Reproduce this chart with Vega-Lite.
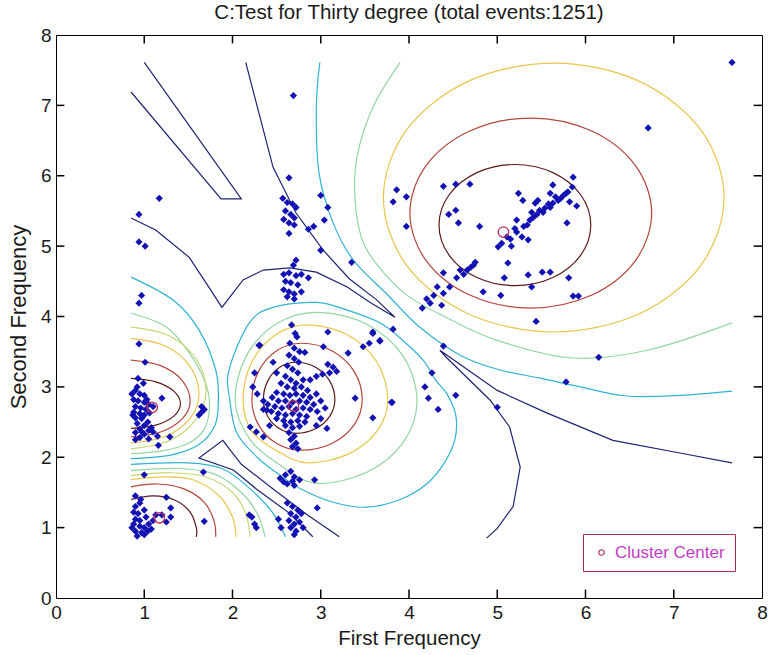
{
"$schema":"https://vega.github.io/schema/vega-lite/v6.json",
"width":706,"height":563,
"autosize":{"type":"none"},
"padding":{"left":56,"top":35,"right":6,"bottom":57},
"background":"white",
"title":{"text":"C:Test for Thirty degree (total events:1251)","font":"Liberation Sans","fontSize":20.5,"fontWeight":"normal","color":"#1a1a1a","offset":3},
"config":{"view":{"stroke":null},
"axis":{"labelFont":"Liberation Sans","labelFontSize":19,"labelColor":"#1a1a1a","titleFont":"Liberation Sans","titleFontSize":20.5,"titleFontWeight":"normal","titleColor":"#1a1a1a","domainColor":"black","grid":false,"ticks":false,"labelPadding":5,"domainWidth":1,"labelFlush":false,"labelOverlap":false}},
"datasets":{
"tk":[
{"x":1,"y":0,"x2":1,"y2":0.12},{"x":2,"y":0,"x2":2,"y2":0.12},{"x":3,"y":0,"x2":3,"y2":0.12},{"x":4,"y":0,"x2":4,"y2":0.12},{"x":5,"y":0,"x2":5,"y2":0.12},{"x":6,"y":0,"x2":6,"y2":0.12},{"x":7,"y":0,"x2":7,"y2":0.12},
{"x":1,"y":8,"x2":1,"y2":7.88},{"x":2,"y":8,"x2":2,"y2":7.88},{"x":3,"y":8,"x2":3,"y2":7.88},{"x":4,"y":8,"x2":4,"y2":7.88},{"x":5,"y":8,"x2":5,"y2":7.88},{"x":6,"y":8,"x2":6,"y2":7.88},{"x":7,"y":8,"x2":7,"y2":7.88},
{"x":0,"y":1,"x2":0.095,"y2":1},{"x":0,"y":2,"x2":0.095,"y2":2},{"x":0,"y":3,"x2":0.095,"y2":3},{"x":0,"y":4,"x2":0.095,"y2":4},{"x":0,"y":5,"x2":0.095,"y2":5},{"x":0,"y":6,"x2":0.095,"y2":6},{"x":0,"y":7,"x2":0.095,"y2":7},
{"x":8,"y":1,"x2":7.905,"y2":1},{"x":8,"y":2,"x2":7.905,"y2":2},{"x":8,"y":3,"x2":7.905,"y2":3},{"x":8,"y":4,"x2":7.905,"y2":4},{"x":8,"y":5,"x2":7.905,"y2":5},{"x":8,"y":6,"x2":7.905,"y2":6},{"x":8,"y":7,"x2":7.905,"y2":7}
],
"closed":[
{"c":"a7","l":7,"i":0,"x":6.06,"y":5.3},{"c":"a7","l":7,"i":1,"x":5.945,"y":5.73},{"c":"a7","l":7,"i":2,"x":5.63,"y":6.045},{"c":"a7","l":7,"i":3,"x":5.2,"y":6.16},{"c":"a7","l":7,"i":4,"x":4.77,"y":6.045},{"c":"a7","l":7,"i":5,"x":4.455,"y":5.73},{"c":"a7","l":7,"i":6,"x":4.34,"y":5.3},{"c":"a7","l":7,"i":7,"x":4.455,"y":4.87},{"c":"a7","l":7,"i":8,"x":4.77,"y":4.555},{"c":"a7","l":7,"i":9,"x":5.2,"y":4.44},{"c":"a7","l":7,"i":10,"x":5.63,"y":4.555},{"c":"a7","l":7,"i":11,"x":5.945,"y":4.87},
{"c":"a6","l":6,"i":0,"x":6.75,"y":5.47},{"c":"a6","l":6,"i":1,"x":6.566,"y":6.145},{"c":"a6","l":6,"i":2,"x":6.065,"y":6.639},{"c":"a6","l":6,"i":3,"x":5.38,"y":6.82},{"c":"a6","l":6,"i":4,"x":4.695,"y":6.639},{"c":"a6","l":6,"i":5,"x":4.194,"y":6.145},{"c":"a6","l":6,"i":6,"x":4.01,"y":5.47},{"c":"a6","l":6,"i":7,"x":4.194,"y":4.795},{"c":"a6","l":6,"i":8,"x":4.695,"y":4.301},{"c":"a6","l":6,"i":9,"x":5.38,"y":4.12},{"c":"a6","l":6,"i":10,"x":6.065,"y":4.301},{"c":"a6","l":6,"i":11,"x":6.566,"y":4.795},
{"c":"a5","l":5,"i":0,"x":7.57,"y":5.69},{"c":"a5","l":5,"i":1,"x":7.311,"y":6.645},{"c":"a5","l":5,"i":2,"x":6.605,"y":7.344},{"c":"a5","l":5,"i":3,"x":5.64,"y":7.6},{"c":"a5","l":5,"i":4,"x":4.675,"y":7.344},{"c":"a5","l":5,"i":5,"x":3.969,"y":6.645},{"c":"a5","l":5,"i":6,"x":3.71,"y":5.69},{"c":"a5","l":5,"i":7,"x":3.969,"y":4.735},{"c":"a5","l":5,"i":8,"x":4.675,"y":4.036},{"c":"a5","l":5,"i":9,"x":5.64,"y":3.78},{"c":"a5","l":5,"i":10,"x":6.605,"y":4.036},{"c":"a5","l":5,"i":11,"x":7.311,"y":4.735},
{"c":"b7","l":7,"i":0,"x":3.16,"y":2.82},{"c":"b7","l":7,"i":1,"x":3.101,"y":3.085},{"c":"b7","l":7,"i":2,"x":2.94,"y":3.279},{"c":"b7","l":7,"i":3,"x":2.72,"y":3.35},{"c":"b7","l":7,"i":4,"x":2.535,"y":3.279},{"c":"b7","l":7,"i":5,"x":2.4,"y":3.085},{"c":"b7","l":7,"i":6,"x":2.35,"y":2.82},{"c":"b7","l":7,"i":7,"x":2.4,"y":2.58},{"c":"b7","l":7,"i":8,"x":2.535,"y":2.404},{"c":"b7","l":7,"i":9,"x":2.72,"y":2.34},{"c":"b7","l":7,"i":10,"x":2.94,"y":2.404},{"c":"b7","l":7,"i":11,"x":3.101,"y":2.58},
{"c":"b6","l":6,"i":0,"x":3.47,"y":2.82},{"c":"b6","l":6,"i":1,"x":3.378,"y":3.22},{"c":"b6","l":6,"i":2,"x":3.125,"y":3.513},{"c":"b6","l":6,"i":3,"x":2.78,"y":3.62},{"c":"b6","l":6,"i":4,"x":2.5,"y":3.513},{"c":"b6","l":6,"i":5,"x":2.295,"y":3.22},{"c":"b6","l":6,"i":6,"x":2.22,"y":2.82},{"c":"b6","l":6,"i":7,"x":2.295,"y":2.46},{"c":"b6","l":6,"i":8,"x":2.5,"y":2.196},{"c":"b6","l":6,"i":9,"x":2.78,"y":2.1},{"c":"b6","l":6,"i":10,"x":3.125,"y":2.196},{"c":"b6","l":6,"i":11,"x":3.378,"y":2.46},
{"c":"b5","l":5,"i":0,"x":3.76,"y":2.82},{"c":"b5","l":5,"i":1,"x":3.638,"y":3.35},{"c":"b5","l":5,"i":2,"x":3.305,"y":3.738},{"c":"b5","l":5,"i":3,"x":2.85,"y":3.88},{"c":"b5","l":5,"i":4,"x":2.485,"y":3.738},{"c":"b5","l":5,"i":5,"x":2.218,"y":3.35},{"c":"b5","l":5,"i":6,"x":2.12,"y":2.82},{"c":"b5","l":5,"i":7,"x":2.218,"y":2.37},{"c":"b5","l":5,"i":8,"x":2.52,"y":2.08},{"c":"b5","l":5,"i":9,"x":2.85,"y":1.92},{"c":"b5","l":5,"i":10,"x":3.305,"y":2.041},{"c":"b5","l":5,"i":11,"x":3.638,"y":2.37},
{"c":"b3","l":3,"i":0,"x":4.09,"y":2.8},{"c":"b3","l":3,"i":1,"x":3.937,"y":3.43},{"c":"b3","l":3,"i":2,"x":3.52,"y":3.891},{"c":"b3","l":3,"i":3,"x":2.95,"y":4.06},{"c":"b3","l":3,"i":4,"x":2.49,"y":3.891},{"c":"b3","l":3,"i":5,"x":2.153,"y":3.43},{"c":"b3","l":3,"i":6,"x":2.03,"y":2.8},{"c":"b3","l":3,"i":7,"x":2.2,"y":2.25},{"c":"b3","l":3,"i":8,"x":2.55,"y":1.88},{"c":"b3","l":3,"i":9,"x":2.95,"y":1.63},{"c":"b3","l":3,"i":10,"x":3.52,"y":1.787},{"c":"b3","l":3,"i":11,"x":3.937,"y":2.215},
{"c":"b2","l":2,"i":0,"x":1.96,"y":3.24},{"c":"b2","l":2,"i":1,"x":2.19,"y":3.91},{"c":"b2","l":2,"i":2,"x":2.46,"y":4.13},{"c":"b2","l":2,"i":3,"x":2.95,"y":4.2},{"c":"b2","l":2,"i":4,"x":3.3,"y":4.09},{"c":"b2","l":2,"i":5,"x":3.67,"y":3.91},{"c":"b2","l":2,"i":6,"x":3.93,"y":3.66},{"c":"b2","l":2,"i":7,"x":4.16,"y":3.38},{"c":"b2","l":2,"i":8,"x":4.3,"y":3.1},{"c":"b2","l":2,"i":9,"x":4.43,"y":2.9},{"c":"b2","l":2,"i":10,"x":4.53,"y":2.6},{"c":"b2","l":2,"i":11,"x":4.52,"y":2.25},{"c":"b2","l":2,"i":12,"x":4.4,"y":1.92},{"c":"b2","l":2,"i":13,"x":4.2,"y":1.62},{"c":"b2","l":2,"i":14,"x":3.9,"y":1.4},{"c":"b2","l":2,"i":15,"x":3.52,"y":1.29},{"c":"b2","l":2,"i":16,"x":3.14,"y":1.36},{"c":"b2","l":2,"i":17,"x":2.76,"y":1.56},{"c":"b2","l":2,"i":18,"x":2.5,"y":1.78},{"c":"b2","l":2,"i":19,"x":2.28,"y":2.0},{"c":"b2","l":2,"i":20,"x":2.05,"y":2.34},{"c":"b2","l":2,"i":21,"x":1.97,"y":2.81}
],
"open":[
{"c":"d2","l":2,"i":0,"x":0.85,"y":4.56},{"c":"d2","l":2,"i":1,"x":1.33,"y":4.23},{"c":"d2","l":2,"i":2,"x":1.62,"y":3.81},{"c":"d2","l":2,"i":3,"x":1.81,"y":3.24},{"c":"d2","l":2,"i":4,"x":1.84,"y":2.8},{"c":"d2","l":2,"i":5,"x":1.8,"y":2.45},{"c":"d2","l":2,"i":6,"x":1.62,"y":2.18},{"c":"d2","l":2,"i":7,"x":1.3,"y":2.03},{"c":"d2","l":2,"i":8,"x":0.85,"y":1.98},
{"c":"d3","l":3,"i":0,"x":0.85,"y":4.05},{"c":"d3","l":3,"i":1,"x":1.25,"y":3.85},{"c":"d3","l":3,"i":2,"x":1.5,"y":3.5},{"c":"d3","l":3,"i":3,"x":1.68,"y":3.1},{"c":"d3","l":3,"i":4,"x":1.74,"y":2.75},{"c":"d3","l":3,"i":5,"x":1.68,"y":2.4},{"c":"d3","l":3,"i":6,"x":1.5,"y":2.2},{"c":"d3","l":3,"i":7,"x":1.2,"y":2.09},{"c":"d3","l":3,"i":8,"x":0.85,"y":2.05},
{"c":"d4","l":4,"i":0,"x":0.85,"y":3.85},{"c":"d4","l":4,"i":1,"x":1.275,"y":3.73},{"c":"d4","l":4,"i":2,"x":1.586,"y":3.4},{"c":"d4","l":4,"i":3,"x":1.7,"y":2.95},{"c":"d4","l":4,"i":4,"x":1.586,"y":2.535},{"c":"d4","l":4,"i":5,"x":1.275,"y":2.23},{"c":"d4","l":4,"i":6,"x":0.85,"y":2.12},
{"c":"d5","l":5,"i":0,"x":0.85,"y":3.69},{"c":"d5","l":5,"i":1,"x":1.235,"y":3.584},{"c":"d5","l":5,"i":2,"x":1.517,"y":3.295},{"c":"d5","l":5,"i":3,"x":1.62,"y":2.9},{"c":"d5","l":5,"i":4,"x":1.517,"y":2.55},{"c":"d5","l":5,"i":5,"x":1.235,"y":2.294},{"c":"d5","l":5,"i":6,"x":0.85,"y":2.2},
{"c":"d6","l":6,"i":0,"x":0.85,"y":3.38},{"c":"d6","l":6,"i":1,"x":1.185,"y":3.302},{"c":"d6","l":6,"i":2,"x":1.43,"y":3.09},{"c":"d6","l":6,"i":3,"x":1.52,"y":2.8},{"c":"d6","l":6,"i":4,"x":1.43,"y":2.545},{"c":"d6","l":6,"i":5,"x":1.185,"y":2.358},{"c":"d6","l":6,"i":6,"x":0.85,"y":2.29},
{"c":"d7","l":7,"i":0,"x":0.85,"y":3.12},{"c":"d7","l":7,"i":1,"x":1.13,"y":3.072},{"c":"d7","l":7,"i":2,"x":1.335,"y":2.94},{"c":"d7","l":7,"i":3,"x":1.41,"y":2.76},{"c":"d7","l":7,"i":4,"x":1.335,"y":2.585},{"c":"d7","l":7,"i":5,"x":1.13,"y":2.457},{"c":"d7","l":7,"i":6,"x":0.85,"y":2.41},
{"c":"e7","l":7,"i":0,"x":0.85,"y":1.4},{"c":"e7","l":7,"i":1,"x":1.1,"y":1.45},{"c":"e7","l":7,"i":2,"x":1.35,"y":1.39},{"c":"e7","l":7,"i":3,"x":1.52,"y":1.22},{"c":"e7","l":7,"i":4,"x":1.59,"y":1.0},{"c":"e7","l":7,"i":5,"x":1.59,"y":0.87},
{"c":"e6","l":6,"i":0,"x":0.85,"y":1.58},{"c":"e6","l":6,"i":1,"x":1.15,"y":1.62},{"c":"e6","l":6,"i":2,"x":1.45,"y":1.55},{"c":"e6","l":6,"i":3,"x":1.68,"y":1.36},{"c":"e6","l":6,"i":4,"x":1.79,"y":1.1},{"c":"e6","l":6,"i":5,"x":1.81,"y":0.87},
{"c":"e5","l":5,"i":0,"x":0.85,"y":1.68},{"c":"e5","l":5,"i":1,"x":1.2,"y":1.72},{"c":"e5","l":5,"i":2,"x":1.55,"y":1.68},{"c":"e5","l":5,"i":3,"x":1.85,"y":1.45},{"c":"e5","l":5,"i":4,"x":2.0,"y":1.15},{"c":"e5","l":5,"i":5,"x":2.04,"y":0.87},
{"c":"e4","l":4,"i":0,"x":0.85,"y":1.74},{"c":"e4","l":4,"i":1,"x":1.3,"y":1.78},{"c":"e4","l":4,"i":2,"x":1.7,"y":1.72},{"c":"e4","l":4,"i":3,"x":2.0,"y":1.5},{"c":"e4","l":4,"i":4,"x":2.15,"y":1.2},{"c":"e4","l":4,"i":5,"x":2.2,"y":0.87},
{"c":"e3","l":3,"i":0,"x":0.85,"y":1.81},{"c":"e3","l":3,"i":1,"x":1.4,"y":1.84},{"c":"e3","l":3,"i":2,"x":1.8,"y":1.76},{"c":"e3","l":3,"i":3,"x":2.1,"y":1.5},{"c":"e3","l":3,"i":4,"x":2.28,"y":1.2},{"c":"e3","l":3,"i":5,"x":2.37,"y":0.87},
{"c":"e2","l":2,"i":0,"x":0.85,"y":1.9},{"c":"e2","l":2,"i":1,"x":1.5,"y":1.92},{"c":"e2","l":2,"i":2,"x":1.9,"y":1.83},{"c":"e2","l":2,"i":3,"x":2.2,"y":1.55},{"c":"e2","l":2,"i":4,"x":2.45,"y":1.22},{"c":"e2","l":2,"i":5,"x":2.6,"y":0.87},
{"c":"f3","l":3,"i":0,"x":3.9,"y":7.61},{"c":"f3","l":3,"i":1,"x":3.59,"y":6.97},{"c":"f3","l":3,"i":2,"x":3.41,"y":6.26},{"c":"f3","l":3,"i":3,"x":3.39,"y":5.65},{"c":"f3","l":3,"i":4,"x":3.47,"y":5.09},{"c":"f3","l":3,"i":5,"x":3.66,"y":4.7},{"c":"f3","l":3,"i":6,"x":3.98,"y":4.3},{"c":"f3","l":3,"i":7,"x":4.4,"y":4.0},{"c":"f3","l":3,"i":8,"x":5.0,"y":3.66},{"c":"f3","l":3,"i":9,"x":5.86,"y":3.41},{"c":"f3","l":3,"i":10,"x":6.7,"y":3.52},{"c":"f3","l":3,"i":11,"x":7.66,"y":3.91},
{"c":"f2","l":2,"i":0,"x":2.99,"y":7.61},{"c":"f2","l":2,"i":1,"x":2.95,"y":6.97},{"c":"f2","l":2,"i":2,"x":2.98,"y":6.04},{"c":"f2","l":2,"i":3,"x":3.14,"y":5.33},{"c":"f2","l":2,"i":4,"x":3.37,"y":4.8},{"c":"f2","l":2,"i":5,"x":3.74,"y":4.33},{"c":"f2","l":2,"i":6,"x":4.12,"y":3.85},{"c":"f2","l":2,"i":7,"x":4.58,"y":3.45},{"c":"f2","l":2,"i":8,"x":5.0,"y":3.25},{"c":"f2","l":2,"i":9,"x":5.5,"y":3.12},{"c":"f2","l":2,"i":10,"x":5.94,"y":3.0},{"c":"f2","l":2,"i":11,"x":6.47,"y":2.87},{"c":"f2","l":2,"i":12,"x":7.07,"y":2.88},{"c":"f2","l":2,"i":13,"x":7.66,"y":2.94}
],
"sharp":[
{"c":"nab","l":1,"i":0,"x":2.15,"y":7.61},{"c":"nab","l":1,"i":1,"x":2.46,"y":6.12},{"c":"nab","l":1,"i":2,"x":2.72,"y":5.47},{"c":"nab","l":1,"i":3,"x":3.03,"y":4.94},{"c":"nab","l":1,"i":4,"x":3.32,"y":4.54},{"c":"nab","l":1,"i":5,"x":3.63,"y":4.24},{"c":"nab","l":1,"i":6,"x":3.84,"y":3.99},{"c":"nab","l":1,"i":7,"x":3.56,"y":4.2},{"c":"nab","l":1,"i":8,"x":3.3,"y":4.42},{"c":"nab","l":1,"i":9,"x":2.95,"y":4.63},{"c":"nab","l":1,"i":10,"x":2.65,"y":4.69},{"c":"nab","l":1,"i":11,"x":2.35,"y":4.66},{"c":"nab","l":1,"i":12,"x":2.12,"y":4.52},{"c":"nab","l":1,"i":13,"x":1.88,"y":4.13},{"c":"nab","l":1,"i":14,"x":1.73,"y":4.42},{"c":"nab","l":1,"i":15,"x":1.51,"y":4.84},{"c":"nab","l":1,"i":16,"x":1.13,"y":5.23},{"c":"nab","l":1,"i":17,"x":0.85,"y":5.4},
{"c":"nlp","l":1,"i":0,"x":0.85,"y":7.19},{"c":"nlp","l":1,"i":1,"x":1.87,"y":5.67},{"c":"nlp","l":1,"i":2,"x":2.1,"y":5.67},{"c":"nlp","l":1,"i":3,"x":1.0,"y":7.61},
{"c":"nwd","l":1,"i":0,"x":2.91,"y":0.87},{"c":"nwd","l":1,"i":1,"x":2.64,"y":1.21},{"c":"nwd","l":1,"i":2,"x":2.27,"y":1.55},{"c":"nwd","l":1,"i":3,"x":2.01,"y":1.82},{"c":"nwd","l":1,"i":4,"x":1.62,"y":1.99},{"c":"nwd","l":1,"i":5,"x":1.89,"y":2.24},{"c":"nwd","l":1,"i":6,"x":2.1,"y":1.9},{"c":"nwd","l":1,"i":7,"x":2.46,"y":1.55},{"c":"nwd","l":1,"i":8,"x":2.85,"y":1.18},{"c":"nwd","l":1,"i":9,"x":3.21,"y":0.87},
{"c":"ncd","l":1,"i":0,"x":4.88,"y":0.85},{"c":"ncd","l":1,"i":1,"x":5.0,"y":0.99},{"c":"ncd","l":1,"i":2,"x":5.18,"y":1.3},{"c":"ncd","l":1,"i":3,"x":5.26,"y":1.86},{"c":"ncd","l":1,"i":4,"x":5.14,"y":2.43},{"c":"ncd","l":1,"i":5,"x":4.92,"y":2.81},{"c":"ncd","l":1,"i":6,"x":4.43,"y":3.41},{"c":"ncd","l":1,"i":7,"x":4.35,"y":3.52},{"c":"ncd","l":1,"i":8,"x":5.0,"y":2.95},{"c":"ncd","l":1,"i":9,"x":5.56,"y":2.63},{"c":"ncd","l":1,"i":10,"x":6.31,"y":2.24},{"c":"ncd","l":1,"i":11,"x":7.07,"y":2.06},{"c":"ncd","l":1,"i":12,"x":7.66,"y":1.92}
],
"pts":[
{"x":0.94,"y":5.45},{"x":1.17,"y":5.68},{"x":0.94,"y":5.06},{"x":1.01,"y":5.0},{"x":0.97,"y":4.3},{"x":0.94,"y":4.19},{"x":0.94,"y":3.61},{"x":1.01,"y":3.35},{"x":0.93,"y":3.12},{"x":0.99,"y":3.05},
{"x":0.9,"y":2.95},{"x":0.95,"y":2.9},{"x":1.0,"y":2.88},{"x":0.88,"y":2.82},{"x":0.93,"y":2.8},{"x":1.0,"y":2.78},{"x":1.05,"y":2.75},{"x":0.9,"y":2.72},{"x":0.96,"y":2.7},{"x":1.02,"y":2.68},{"x":0.88,"y":2.64},{"x":0.95,"y":2.62},{"x":1.0,"y":2.6},{"x":1.06,"y":2.63},{"x":0.9,"y":2.56},{"x":0.97,"y":2.55},{"x":1.2,"y":2.84},{"x":1.1,"y":2.72},{"x":1.04,"y":2.5},{"x":0.92,"y":2.48},{"x":1.0,"y":2.45},{"x":0.95,"y":2.4},{"x":1.05,"y":2.38},{"x":0.9,"y":2.35},{"x":1.0,"y":2.33},{"x":1.1,"y":2.36},{"x":0.95,"y":2.28},{"x":1.05,"y":2.26},{"x":1.15,"y":2.3},{"x":1.29,"y":2.29},{"x":1.16,"y":2.17},{"x":0.9,"y":2.25},{"x":1.65,"y":2.72},{"x":1.65,"y":2.64},{"x":1.68,"y":2.68},{"x":1.62,"y":2.6},{"x":0.86,"y":2.9},{"x":0.92,"y":3.0},{"x":0.87,"y":2.6},{"x":1.03,"y":2.82},{"x":0.98,"y":2.35},{"x":1.08,"y":2.42},
{"x":0.9,"y":1.3},{"x":0.95,"y":1.35},{"x":0.88,"y":1.22},{"x":0.93,"y":1.2},{"x":1.0,"y":1.25},{"x":0.9,"y":1.12},{"x":0.95,"y":1.1},{"x":1.02,"y":1.15},{"x":0.88,"y":1.05},{"x":0.95,"y":1.02},{"x":1.0,"y":1.0},{"x":1.05,"y":1.05},{"x":0.9,"y":0.95},{"x":0.97,"y":0.93},{"x":1.04,"y":0.95},{"x":0.92,"y":0.88},{"x":1.0,"y":0.9},{"x":1.08,"y":0.98},{"x":0.86,"y":1.0},{"x":1.1,"y":1.1},{"x":1.25,"y":1.43},{"x":1.3,"y":1.28},{"x":1.13,"y":1.18},{"x":1.25,"y":1.08},{"x":1.2,"y":1.18},{"x":1.3,"y":1.15},{"x":1.68,"y":1.09},{"x":1.0,"y":1.75},{"x":1.67,"y":1.79},{"x":0.96,"y":1.4},{"x":0.9,"y":1.45},
{"x":2.67,"y":3.88},{"x":2.71,"y":3.76},{"x":2.73,"y":3.71},{"x":2.65,"y":3.62},{"x":2.7,"y":3.55},{"x":2.76,"y":3.5},{"x":2.64,"y":3.45},{"x":2.7,"y":3.4},{"x":2.75,"y":3.35},{"x":2.62,"y":3.3},{"x":2.68,"y":3.25},{"x":2.74,"y":3.2},{"x":2.6,"y":3.15},{"x":2.66,"y":3.1},{"x":2.72,"y":3.05},{"x":2.8,"y":3.1},{"x":2.55,"y":3.05},{"x":2.62,"y":3.0},{"x":2.7,"y":2.98},{"x":2.78,"y":3.0},{"x":2.85,"y":2.95},{"x":2.5,"y":2.92},{"x":2.58,"y":2.9},{"x":2.65,"y":2.88},{"x":2.72,"y":2.9},{"x":2.8,"y":2.88},{"x":2.88,"y":2.85},{"x":2.95,"y":2.9},{"x":2.45,"y":2.85},{"x":2.52,"y":2.8},{"x":2.6,"y":2.8},{"x":2.68,"y":2.78},{"x":2.76,"y":2.8},{"x":2.84,"y":2.78},{"x":2.92,"y":2.75},{"x":3.0,"y":2.8},{"x":2.4,"y":2.75},{"x":2.48,"y":2.72},{"x":2.56,"y":2.7},{"x":2.64,"y":2.72},{"x":2.72,"y":2.68},{"x":2.8,"y":2.7},{"x":2.88,"y":2.68},{"x":2.96,"y":2.65},{"x":3.05,"y":2.7},{"x":2.35,"y":2.68},{"x":2.44,"y":2.65},{"x":2.52,"y":2.62},{"x":2.6,"y":2.6},{"x":2.68,"y":2.62},{"x":2.76,"y":2.6},{"x":2.84,"y":2.58},{"x":2.5,"y":2.55},{"x":2.58,"y":2.52},{"x":2.66,"y":2.5},{"x":2.74,"y":2.52},{"x":2.82,"y":2.5},{"x":2.6,"y":2.45},{"x":2.68,"y":2.42},{"x":2.76,"y":2.44},{"x":2.64,"y":2.35},{"x":2.7,"y":2.3},{"x":2.66,"y":2.25},{"x":2.72,"y":2.2},{"x":2.68,"y":2.15},{"x":2.74,"y":2.12},
{"x":2.88,"y":3.1},{"x":2.95,"y":3.15},{"x":3.02,"y":3.18},{"x":3.1,"y":3.2},{"x":3.18,"y":3.22},{"x":3.08,"y":3.32},{"x":3.14,"y":3.28},
{"x":2.31,"y":3.59},{"x":2.82,"y":3.49},{"x":3.08,"y":3.78},{"x":3.03,"y":3.57},{"x":3.39,"y":2.84},{"x":3.07,"y":2.41},{"x":3.59,"y":2.56},{"x":3.81,"y":2.78},{"x":3.48,"y":3.57},{"x":3.55,"y":3.62},{"x":3.67,"y":3.66},{"x":3.59,"y":3.78},{"x":3.82,"y":3.82},{"x":3.31,"y":3.48},{"x":2.25,"y":3.2},{"x":2.23,"y":3.0},{"x":2.28,"y":2.9},{"x":2.35,"y":2.8},{"x":2.39,"y":2.67},{"x":2.2,"y":2.43},{"x":2.27,"y":2.36},{"x":2.35,"y":2.29},{"x":2.42,"y":2.45},{"x":2.95,"y":2.45},{"x":3.0,"y":2.55},{"x":2.5,"y":3.2},{"x":2.46,"y":3.35},{"x":2.3,"y":3.59},
{"x":2.54,"y":1.7},{"x":2.6,"y":1.75},{"x":2.66,"y":1.8},{"x":2.7,"y":1.72},{"x":2.76,"y":1.68},{"x":2.62,"y":1.62},{"x":2.7,"y":1.6},{"x":2.58,"y":1.65},{"x":2.93,"y":1.68},{"x":2.68,"y":1.66},
{"x":2.62,"y":1.35},{"x":2.68,"y":1.3},{"x":2.74,"y":1.25},{"x":2.66,"y":1.2},{"x":2.72,"y":1.15},{"x":2.78,"y":1.2},{"x":2.64,"y":1.1},{"x":2.7,"y":1.05},{"x":2.76,"y":1.08},{"x":2.66,"y":1.0},{"x":2.72,"y":0.95},{"x":2.8,"y":1.0},{"x":2.7,"y":0.9},{"x":2.96,"y":1.28},{"x":2.52,"y":1.12},{"x":2.55,"y":1.0},{"x":2.22,"y":1.15},{"x":2.19,"y":1.18},{"x":2.25,"y":1.05},{"x":2.27,"y":1.0},
{"x":2.64,"y":5.97},{"x":2.69,"y":7.14},{"x":2.57,"y":5.68},{"x":2.62,"y":5.62},{"x":2.68,"y":5.6},{"x":2.72,"y":5.55},{"x":2.6,"y":5.5},{"x":2.66,"y":5.45},{"x":2.7,"y":5.4},{"x":2.58,"y":5.38},{"x":2.64,"y":5.33},{"x":2.7,"y":5.3},{"x":2.64,"y":5.18},{"x":3.0,"y":5.72},{"x":3.08,"y":5.55},{"x":3.04,"y":5.37},{"x":2.92,"y":5.28},{"x":2.86,"y":5.24},{"x":3.0,"y":4.94},{"x":3.35,"y":4.77},{"x":2.72,"y":4.8},{"x":2.69,"y":4.73},{"x":2.58,"y":4.6},{"x":2.64,"y":4.62},{"x":2.72,"y":4.58},{"x":2.78,"y":4.6},{"x":2.6,"y":4.5},{"x":2.66,"y":4.48},{"x":2.74,"y":4.45},{"x":2.58,"y":4.38},{"x":2.64,"y":4.35},{"x":2.7,"y":4.32},{"x":2.78,"y":4.35},{"x":2.62,"y":4.28},{"x":2.7,"y":4.25},{"x":2.86,"y":4.55},
{"x":4.15,"y":4.12},{"x":4.24,"y":4.19},{"x":4.32,"y":4.42},{"x":4.39,"y":4.33},{"x":4.46,"y":4.42},{"x":4.54,"y":4.55},{"x":4.58,"y":4.66},{"x":4.66,"y":4.66},{"x":4.73,"y":4.73},{"x":4.75,"y":4.77},{"x":4.37,"y":4.16},{"x":4.39,"y":4.62},{"x":5.01,"y":4.99},{"x":5.05,"y":5.04},{"x":5.11,"y":5.13},{"x":5.22,"y":5.2},{"x":5.28,"y":5.13},{"x":5.35,"y":5.09},{"x":5.34,"y":5.3},{"x":5.37,"y":5.37},{"x":5.41,"y":5.41},{"x":5.48,"y":5.51},{"x":5.54,"y":5.54},{"x":5.6,"y":5.55},{"x":5.63,"y":5.61},{"x":5.69,"y":5.65},{"x":5.75,"y":5.72},{"x":5.8,"y":5.77},{"x":5.85,"y":5.84},{"x":5.86,"y":5.98},{"x":5.63,"y":5.87},{"x":5.6,"y":5.75},{"x":5.43,"y":5.61},{"x":5.46,"y":5.65},{"x":5.24,"y":5.75},{"x":5.29,"y":5.65},{"x":5.39,"y":5.48},{"x":5.82,"y":5.63},{"x":5.9,"y":5.57},{"x":5.79,"y":5.33},{"x":5.22,"y":5.37},{"x":4.8,"y":5.28},{"x":4.56,"y":5.33},{"x":4.45,"y":5.45},{"x":4.53,"y":5.51},{"x":4.39,"y":5.85},{"x":4.53,"y":5.88},{"x":4.69,"y":5.88},{"x":3.86,"y":5.8},{"x":3.82,"y":5.63},{"x":3.97,"y":5.7},{"x":3.97,"y":5.28},{"x":5.12,"y":4.76},{"x":5.08,"y":4.55},{"x":4.84,"y":4.35},{"x":5.04,"y":4.3},{"x":5.35,"y":4.59},{"x":5.51,"y":4.63},{"x":5.6,"y":4.63},{"x":5.39,"y":4.42},{"x":5.81,"y":4.55},{"x":5.86,"y":4.29},{"x":5.92,"y":4.29},{"x":5.44,"y":3.93},{"x":6.71,"y":6.68},{"x":7.66,"y":7.61},{"x":3.59,"y":3.76},{"x":3.67,"y":3.65},{"x":4.39,"y":3.58},{"x":6.15,"y":3.42},{"x":5.78,"y":3.07},{"x":4.26,"y":3.2},{"x":4.18,"y":3.0},{"x":4.22,"y":2.84},{"x":4.33,"y":2.68},{"x":4.53,"y":2.88},{"x":5.0,"y":2.71},{"x":3.8,"y":2.78},
{"x":5.15,"y":5.1},{"x":5.2,"y":5.25},{"x":5.3,"y":5.28},{"x":5.45,"y":5.45},{"x":5.52,"y":5.48},{"x":5.58,"y":5.6},{"x":5.66,"y":5.7},{"x":5.72,"y":5.68},{"x":5.78,"y":5.75},{"x":4.62,"y":4.6},{"x":4.7,"y":4.7},{"x":4.28,"y":4.3},{"x":4.2,"y":4.25},{"x":5.16,"y":5.0}
],
"centers":[
{"x":1.09,"y":2.71,"kind":"Cluster Center"},{"x":1.17,"y":1.14,"kind":"Cluster Center"},{"x":2.69,"y":2.73,"kind":"Cluster Center"},{"x":5.07,"y":5.2,"kind":"Cluster Center"}
]
},
"layer":[
{"data":{"name":"tk"},"mark":{"type":"rule","color":"#000000","strokeWidth":1.5},
"encoding":{"x":{"field":"x","type":"quantitative","scale":{"domain":[0,8],"nice":false,"zero":false},"axis":{"title":"First Frequency","values":[0,1,2,3,4,5,6,7,8],"format":"d","titlePadding":6}},
"y":{"field":"y","type":"quantitative","scale":{"domain":[0,8],"nice":false,"zero":false},"axis":{"title":"Second Frequency","values":[0,1,2,3,4,5,6,7,8],"format":"d","titlePadding":10,"titleFontSize":22}},
"x2":{"field":"x2"},"y2":{"field":"y2"}}},
{"data":{"name":"closed"},"mark":{"type":"line","interpolate":"cardinal-closed","strokeWidth":1.2},
"encoding":{"x":{"field":"x","type":"quantitative","scale":{"domain":[0,8],"nice":false,"zero":false},"axis":null},
"y":{"field":"y","type":"quantitative","scale":{"domain":[0,8],"nice":false,"zero":false},"axis":null},
"color":{"field":"l","type":"nominal","scale":{"domain":[1,2,3,4,5,6,7],"range":["#1e2470","#2fb3d3","#92d6a4","#c6d874","#e8c64a","#b4453c","#5a1a1a"]},"legend":null},
"detail":{"field":"c","type":"nominal"},"order":{"field":"i","type":"quantitative"}}},
{"data":{"name":"open"},"mark":{"type":"line","interpolate":"cardinal","strokeWidth":1.2},
"encoding":{"x":{"field":"x","type":"quantitative","scale":{"domain":[0,8],"nice":false,"zero":false},"axis":null},
"y":{"field":"y","type":"quantitative","scale":{"domain":[0,8],"nice":false,"zero":false},"axis":null},
"color":{"field":"l","type":"nominal","scale":{"domain":[1,2,3,4,5,6,7],"range":["#1e2470","#2fb3d3","#92d6a4","#c6d874","#e8c64a","#b4453c","#5a1a1a"]},"legend":null},
"detail":{"field":"c","type":"nominal"},"order":{"field":"i","type":"quantitative"}}},
{"data":{"name":"sharp"},"mark":{"type":"line","interpolate":"linear","strokeWidth":1.2},
"encoding":{"x":{"field":"x","type":"quantitative","scale":{"domain":[0,8],"nice":false,"zero":false},"axis":null},
"y":{"field":"y","type":"quantitative","scale":{"domain":[0,8],"nice":false,"zero":false},"axis":null},
"color":{"field":"l","type":"nominal","scale":{"domain":[1,2,3,4,5,6,7],"range":["#1e2470","#2fb3d3","#92d6a4","#c6d874","#e8c64a","#b4453c","#5a1a1a"]},"legend":null},
"detail":{"field":"c","type":"nominal"},"order":{"field":"i","type":"quantitative"}}},
{"data":{"name":"pts"},"mark":{"type":"point","shape":"diamond","filled":true,"color":"#1212b4","size":52,"opacity":1},
"encoding":{"x":{"field":"x","type":"quantitative","scale":{"domain":[0,8],"nice":false,"zero":false},"axis":null},
"y":{"field":"y","type":"quantitative","scale":{"domain":[0,8],"nice":false,"zero":false},"axis":null}}},
{"data":{"name":"centers"},"mark":{"type":"point","filled":false,"color":"#b8305a","size":110,"strokeWidth":1.3,"opacity":1},
"encoding":{"x":{"field":"x","type":"quantitative","scale":{"domain":[0,8],"nice":false,"zero":false},"axis":null},
"y":{"field":"y","type":"quantitative","scale":{"domain":[0,8],"nice":false,"zero":false},"axis":null},
"shape":{"field":"kind","type":"nominal","scale":{"range":["circle"]},"legend":{"title":null,"orient":"none","legendX":527,"legendY":499,"padding":10,"strokeColor":"#a83048","fillColor":"white","labelFont":"Liberation Sans","labelFontSize":17,"labelColor":"#c23cc2","symbolSize":30,"symbolStrokeColor":"#a83048","symbolFillColor":"transparent","symbolStrokeWidth":1.2,"labelOffset":5,"cornerRadius":0}}}},
{"data":{"name":"centers"},"mark":{"type":"point","opacity":0},
"encoding":{"x":{"field":"x","type":"quantitative","scale":{"domain":[0,8],"nice":false,"zero":false},"axis":{"orient":"top","labels":false,"title":null}},
"y":{"field":"y","type":"quantitative","scale":{"domain":[0,8],"nice":false,"zero":false},"axis":{"orient":"right","labels":false,"title":null}}}}
],
"resolve":{"axis":{"x":"independent","y":"independent"}}
}
